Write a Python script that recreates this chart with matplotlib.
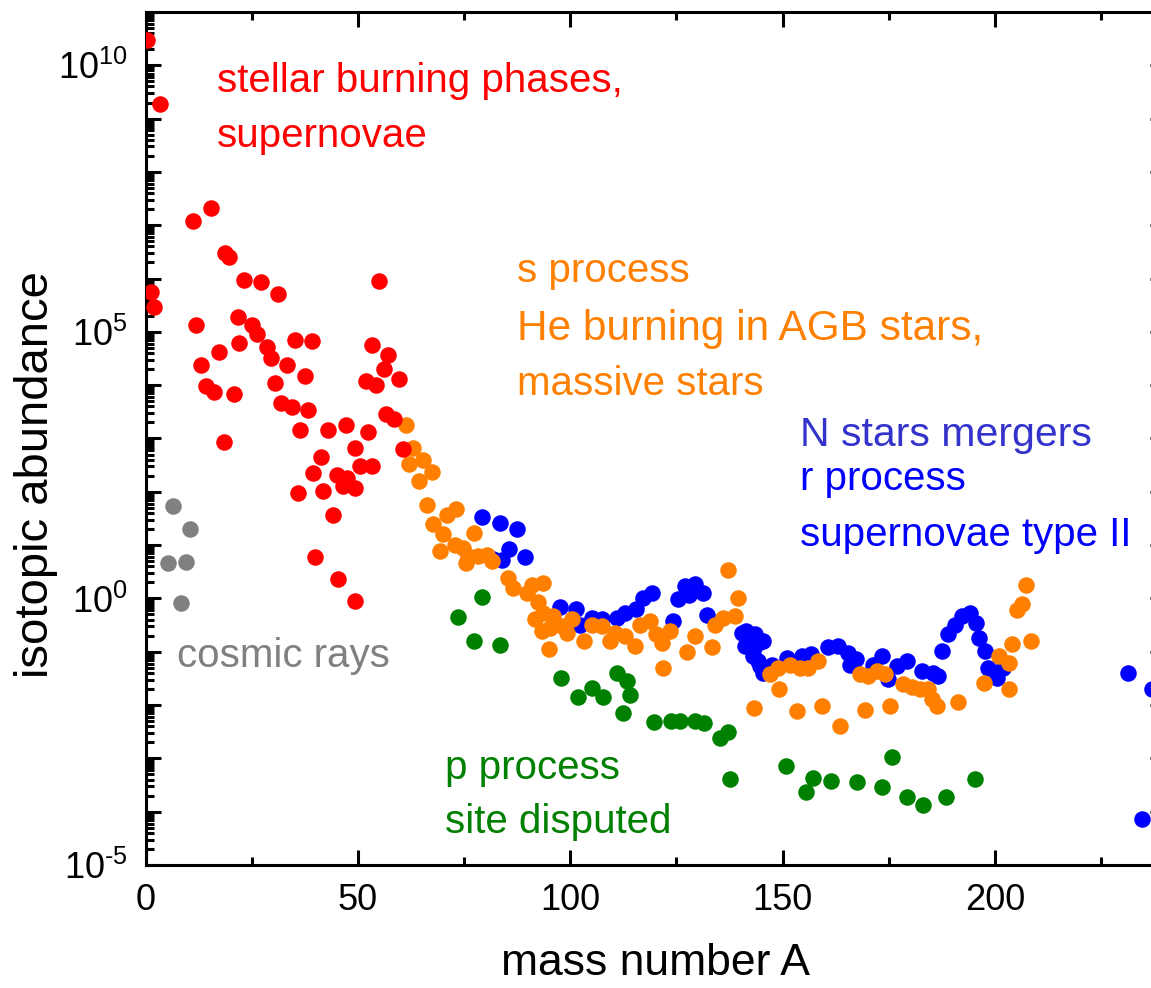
import numpy as np
import matplotlib
matplotlib.use("Agg")
import matplotlib.pyplot as plt
from matplotlib.ticker import LogLocator, MultipleLocator, FuncFormatter, NullFormatter

plt.rcParams['font.family'] = ['Liberation Sans', 'DejaVu Sans']
plt.rcParams['mathtext.fontset'] = 'custom'
plt.rcParams['mathtext.rm'] = 'Liberation Sans Narrow'
plt.rcParams['mathtext.default'] = 'regular'
plt.rcParams['axes.unicode_minus'] = False

# mass number A and log10(abundance)
red_A = [0.2, 3.4, 1.2, 2.0, 11.1, 11.8, 13.0, 14.2, 15.4, 16.2, 17.3, 18.5, 18.7, 19.5,
         20.8, 21.7, 22.0, 23.2, 25.0, 26.3, 27.1, 28.5, 29.4, 30.4, 31.2, 31.8, 33.2, 34.4,
         35.2, 35.9, 36.3, 37.5, 38.3, 39.1, 39.5, 39.9, 41.4, 41.7, 43.0, 44.0, 45.0, 45.4,
         46.5, 47.2, 47.3, 49.3, 49.3, 49.3, 50.5, 51.9, 52.4, 53.2, 53.2, 54.2, 55.0, 56.2,
         56.6, 57.1, 58.5, 59.6, 60.5]
red_logy = [10.48, 9.28, 5.75, 5.46, 7.07, 5.13, 4.38, 3.98, 7.32, 3.87, 4.62, 2.93, 6.47, 6.41,
            3.84, 5.27, 4.79, 5.97, 5.12, 4.96, 5.94, 4.72, 4.51, 4.04, 5.71, 3.66, 4.38, 3.59,
            4.85, 1.98, 3.16, 4.18, 3.53, 4.83, 2.35, 0.77, 2.66, 2.01, 3.16, 1.57, 2.32, 0.36,
            2.10, 3.26, 2.26, 2.82, 2.07, -0.05, 2.48, 4.07, 3.12, 4.76, 2.48, 4.01, 5.96, 4.31,
            3.46, 4.56, 3.37, 4.11, 2.80]

gray_A = [5.3, 6.5, 8.3, 9.4, 10.4]
gray_logy = [0.67, 1.74, -0.09, 0.69, 1.31]

orange_A = [61.3, 63.0, 62.1, 65.2, 67.4, 64.4, 66.3, 73.1, 70.9, 67.7,
            70.1, 77.4, 69.3, 72.8, 74.8, 76.0, 75.4, 78.3, 80.3, 81.5,
            85.4, 86.6, 90.9, 93.5, 89.7, 92.5, 91.7, 93.6, 96.0, 93.3,
            95.2, 98.0, 99.2, 100.3, 95.1, 103.2, 105.0, 107.4, 109.4, 110.5,
            112.9, 115.2, 116.4, 118.8, 120.3, 121.5, 123.5, 121.9, 127.4, 129.4,
            133.3, 134.1, 136.0, 138.8, 139.4, 137.2, 143.3, 147.0, 149.2, 149.0,
            151.7, 154.1, 156.0, 158.4, 153.5, 159.3, 163.5, 169.4, 175.3, 168.2,
            170.2, 172.2, 174.1, 178.4, 180.4, 182.4, 184.3, 185.1, 186.3, 191.4,
            197.5, 201.0, 203.4, 204.1, 203.3, 208.5, 205.1, 206.5, 207.3]
orange_logy = [3.26, 2.82, 2.52, 2.60, 2.38, 2.20, 1.76, 1.68, 1.57, 1.39,
               1.20, 1.23, 0.89, 1.01, 0.95, 0.79, 0.67, 0.79, 0.82, 0.70,
               0.39, 0.20, 0.26, 0.28, 0.11, -0.07, -0.39, -0.27, -0.33, -0.61,
               -0.55, -0.52, -0.64, -0.39, -0.94, -0.80, -0.49, -0.52, -0.80, -0.64,
               -0.71, -0.89, -0.49, -0.43, -0.67, -0.83, -0.61, -1.30, -1.01, -0.71,
               -0.92, -0.49, -0.36, -0.33, 0.01, 0.53, -2.05, -1.42, -1.70, -1.30,
               -1.24, -1.30, -1.30, -1.17, -2.12, -2.02, -2.39, -2.09, -2.02, -1.42,
               -1.46, -1.36, -1.42, -1.61, -1.67, -1.70, -1.70, -1.89, -2.02, -1.95,
               -1.58, -1.08, -1.22, -0.86, -1.70, -0.80, -0.21, -0.11, 0.26]

blue_A = [79.1, 83.4, 87.4, 85.6, 89.4, 83.8, 81.9, 97.6, 101.3, 102.3,
          105.0, 107.4, 110.9, 113.0, 115.4, 117.2, 119.2, 124.3, 125.4, 127.0,
          129.4, 131.2, 128.0, 132.2, 140.4, 141.5, 142.3, 143.5, 144.3, 145.5,
          141.1, 141.9, 143.1, 143.1, 144.3, 144.7, 145.5, 147.4, 151.0, 154.5,
          156.8, 160.8, 163.1, 165.5, 167.4, 165.9, 171.4, 173.3, 174.9, 176.9,
          179.2, 182.8, 185.5, 186.7, 187.5, 189.0, 190.6, 192.2, 194.1, 195.5,
          196.3, 197.7, 198.4, 200.4, 202.0, 231.4, 237.0, 234.6]
blue_logy = [1.52, 1.42, 1.31, 0.92, 0.78, 0.72, 0.73, -0.17, -0.20, -0.49,
             -0.37, -0.38, -0.37, -0.27, -0.19, 0.00, 0.11, -0.43, -0.02, 0.23,
             0.27, 0.11, 0.07, -0.32, -0.64, -0.61, -0.77, -0.67, -0.83, -0.80,
             -0.89, -0.86, -0.99, -1.08, -1.17, -1.27, -1.39, -1.24, -1.11, -1.08,
             -1.05, -0.92, -0.89, -1.02, -1.14, -1.24, -1.24, -1.08, -1.52, -1.27,
             -1.17, -1.36, -1.39, -1.46, -0.99, -0.67, -0.49, -0.33, -0.27, -0.46,
             -0.74, -0.99, -1.30, -1.49, -1.30, -1.39, -1.70, -4.14]

green_A = [73.5, 79.3, 77.3, 83.4, 97.9, 101.8, 105.2, 107.7, 111.1, 113.4,
           114.1, 112.3, 119.7, 123.7, 125.8, 129.4, 131.4, 135.3, 137.2, 137.6,
           150.8, 157.1, 155.5, 161.3, 167.6, 173.3, 175.7, 179.2, 183.0, 188.5,
           195.3]
green_logy = [-0.35, 0.02, -0.80, -0.87, -1.49, -1.85, -1.68, -1.84, -1.40, -1.54,
              -1.82, -2.15, -2.32, -2.30, -2.30, -2.30, -2.33, -2.61, -2.50, -3.38,
              -3.14, -3.36, -3.64, -3.43, -3.45, -3.53, -2.98, -3.72, -3.87, -3.72,
              -3.38]

RED, ORANGE, BLUE, GREEN, GRAY = '#ff0000', '#ff8000', '#0000ff', '#008000', '#808080'

fig = plt.figure(figsize=(11.51, 9.88), dpi=100)
ax = fig.add_axes([0.1266, 0.1245, 0.8853, 0.8634])

ms = 11.9
for xs, ls, c, z in [(blue_A, blue_logy, BLUE, 3), (orange_A, orange_logy, ORANGE, 4),
                     (red_A, red_logy, RED, 5), (gray_A, gray_logy, GRAY, 5),
                     (green_A, green_logy, GREEN, 5)]:
    ax.plot(xs, 10 ** np.array(ls), 'o', color=c, markersize=ms, markeredgewidth=0, zorder=z)

ax.set_yscale('log')
ax.set_xlim(0, 240)
ax.set_ylim(1e-5, 1e11)

# annotations
fs = 29
ax.text(16.7, 10 ** 9.50, 'stellar burning phases,', color=RED, fontsize=fs)
ax.text(16.7, 10 ** 8.47, 'supernovae', color=RED, fontsize=fs)
ax.text(87.4, 10 ** 5.94, 's process', color=ORANGE, fontsize=fs)
ax.text(87.4, 10 ** 4.85, 'He burning in AGB stars,', color=ORANGE, fontsize=30.5)
ax.text(87.4, 10 ** 3.82, 'massive stars', color=ORANGE, fontsize=fs)
ax.text(154.1, 10 ** 2.85, 'N stars mergers', color='#3333cc', fontsize=29.5)
ax.text(154.1, 10 ** 2.04, 'r process', color=BLUE, fontsize=fs)
ax.text(154.1, 10 ** 0.98, 'supernovae type II', color=BLUE, fontsize=fs)
ax.text(7.3, 10 ** -1.29, 'cosmic rays', color=GRAY, fontsize=fs)
ax.text(70.5, 10 ** -3.39, 'p process', color=GREEN, fontsize=fs)
ax.text(70.5, 10 ** -4.40, 'site disputed', color=GREEN, fontsize=fs)

# ticks
ax.xaxis.set_major_locator(MultipleLocator(50))
ax.xaxis.set_minor_locator(MultipleLocator(25))
ax.yaxis.set_major_locator(LogLocator(base=10, numticks=30))
ax.yaxis.set_minor_locator(LogLocator(base=10, subs=np.arange(2, 10), numticks=30))
ax.yaxis.set_minor_formatter(NullFormatter())


def ylab(v, pos):
    e = int(round(np.log10(v)))
    if e % 5:
        return ''
    sign = '\u2010' if e < 0 else ''
    return r'$10^{%s%d}$' % (sign, abs(e))


ax.yaxis.set_major_formatter(FuncFormatter(ylab))
ax.tick_params(which='both', direction='in', top=True, right=True, width=2.2)
ax.tick_params(which='major', length=10.8)
ax.tick_params(which='minor', length=5.5)
ax.tick_params(axis='x', labelsize=26, pad=13)
ax.tick_params(axis='y', labelsize=26, pad=13)
for lab in ax.get_xticklabels():
    lab.set_family(['Liberation Sans Narrow', 'Liberation Sans'])
for s in ax.spines.values():
    s.set_linewidth(2.2)

ax.set_xlabel('mass number A', fontsize=32)
ax.set_ylabel('isotopic abundance', fontsize=34)
ax.xaxis.set_label_coords(0.5, -0.092)
ax.yaxis.set_label_coords(-0.086, 0.458)

fig.savefig('out.png', dpi=100)
